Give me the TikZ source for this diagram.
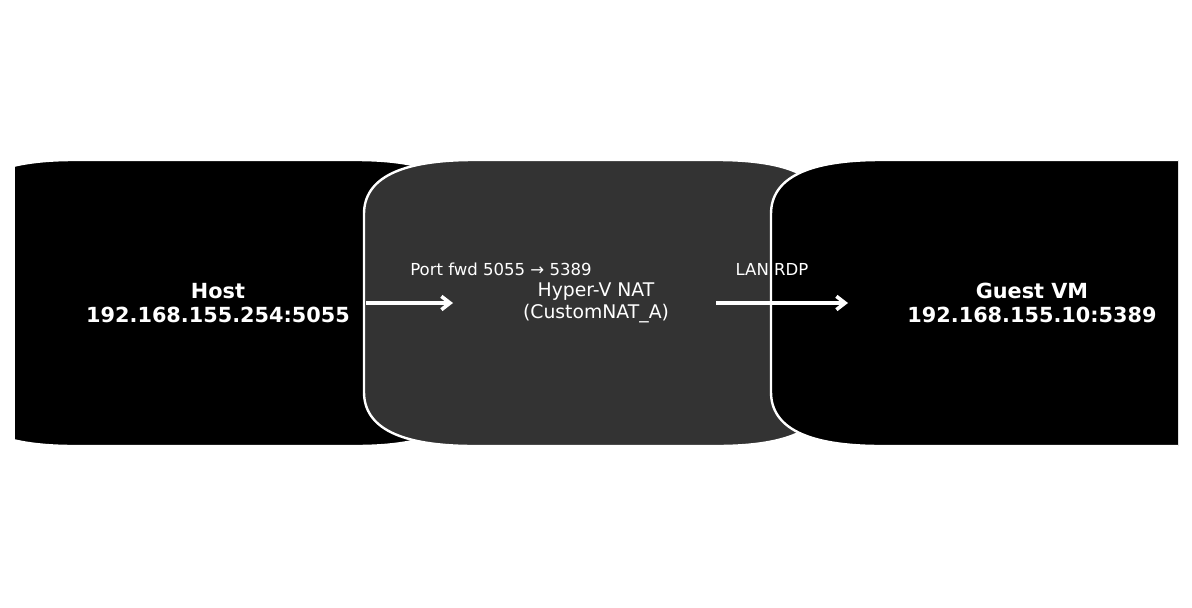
\documentclass[tikz,border=0pt]{standalone}
\usepackage{fontspec}
\setmainfont{DejaVu Sans}
\usetikzlibrary{arrows.meta}
\definecolor{natgrey}{HTML}{333333}

% box with flat rounded corners: left edge, right edge, fill
\newcommand{\netbox}[3]{%
  \draw[boxline, fill=#3] (#1,214) .. controls (#1,178) and (#1+36.7,160) .. (#1+110,160)
    -- (#2-110,160) .. controls (#2-36.7,160) and (#2,178) .. (#2,214)
    -- (#2,392) .. controls (#2,428) and (#2-36.7,446) .. (#2-110,446)
    -- (#1+110,446) .. controls (#1+36.7,446) and (#1,428) .. (#1,392) -- cycle;}

\begin{document}
\begin{tikzpicture}[x=0.75pt, y=-0.75pt,
  boxline/.style={draw=white, line width=1.8pt},
  endtext/.style={white, align=center, font=\fontsize{15.6}{18}\selectfont\bfseries},
  midtext/.style={white, align=center, font=\fontsize{14.1}{16.5}\selectfont},
  edgetext/.style={white, anchor=base, font=\fontsize{12.4}{15}\selectfont},
  flow/.style={white, line width=2.7pt, -{Straight Barb[length=6.5pt,width=10pt]}}]
\fill[white] (0,0) rectangle (1192,607);
\useasboundingbox (0,0) rectangle (1192,607);

\begin{scope}
\clip (15,0) rectangle (1178,607);
\netbox{-36}{466}{black}
\netbox{364}{827}{natgrey}
\netbox{771}{1293}{black}
\end{scope}

\node[endtext] (host) at (218,303) {Host\\192.168.155.254:5055};
\node[midtext] (nat) at (596,303) {Hyper-V NAT\\(CustomNAT\_A)};
\node[endtext] (guest) at (1032,303) {Guest VM\\192.168.155.10:5389};

\coordinate (fwdstart) at (366,303);
\coordinate (fwdend) at (453,303);
\coordinate (rdpstart) at (716,303);
\coordinate (rdpend) at (848,303);

\draw[flow] (fwdstart) -- (fwdend);
\draw[flow] (rdpstart) -- (rdpend);

\node[edgetext] (fwdlabel) at (501,275) {Port fwd 5055 → 5389};
\node[edgetext] (rdplabel) at (772,275) {LAN RDP};
\end{tikzpicture}
\end{document}
